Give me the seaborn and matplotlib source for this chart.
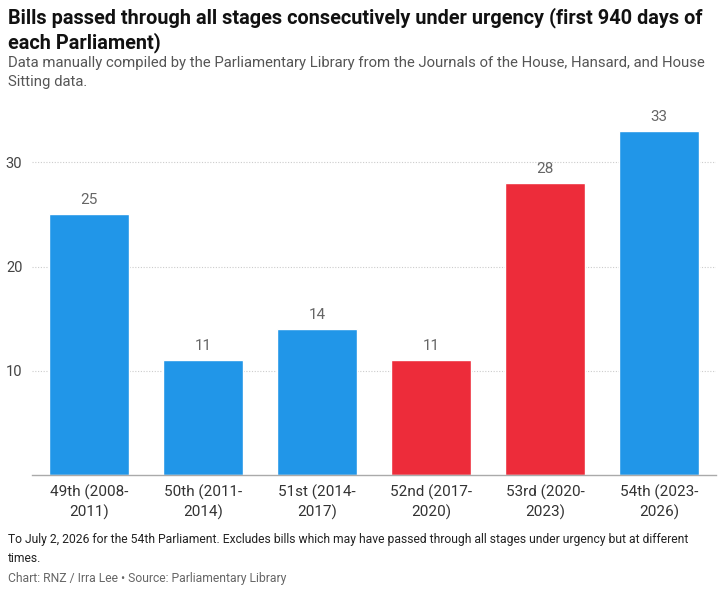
import numpy as np
import pandas as pd
import matplotlib
matplotlib.use('Agg')
import matplotlib.pyplot as plt
import seaborn as sns

parliaments = ['49th (2008-\n2011)', '50th (2011-\n2014)', '51st (2014-\n2017)',
               '52nd (2017-\n2020)', '53rd (2020-\n2023)', '54th (2023-\n2026)']
bills = [25, 11, 14, 11, 28, 33]
govt = ['National', 'National', 'National', 'Labour', 'Labour', 'National']
palette = {'National': '#2196e8', 'Labour': '#ed2c3a'}

sns.set_theme(style='white')
plt.rcParams['font.family'] = ['Roboto', 'DejaVu Sans']

df = pd.DataFrame({'parliament': parliaments, 'bills': bills, 'govt': govt})

fig = plt.figure(figsize=(7.18, 5.90), dpi=100)
ax = fig.add_axes([32 / 718, 1 - 475 / 590, 684 / 718, 370 / 590])

sns.barplot(data=df, x='parliament', y='bills', hue='govt', palette=palette,
            dodge=False, width=0.7, legend=False, ax=ax, saturation=1)

for i, v in enumerate(bills):
    ax.text(i, v + 0.7, str(v), ha='center', va='bottom', fontsize=11, color='#666666')

ax.set_ylim(0, 35.5)
ax.set_xlim(-0.5, 5.5)
ax.set_yticks([10, 20, 30])
ax.yaxis.grid(True, linestyle=(0, (1, 1.5)), color='#cccccc', linewidth=0.8)
ax.set_axisbelow(True)
ax.set_xlabel('')
ax.set_ylabel('')
for s in ['top', 'right', 'left']:
    ax.spines[s].set_visible(False)
ax.spines['bottom'].set_color('#aaaaaa')
ax.spines['bottom'].set_linewidth(1)
ax.tick_params(axis='y', length=0, labelsize=10.5, labelcolor='#444444', pad=7)
ax.tick_params(axis='x', length=0, labelsize=11, labelcolor='#333333', pad=7)
for lab in ax.get_xticklabels():
    lab.set_linespacing(1.35)

fig.text(8 / 718, 1 - 7 / 590,
         'Bills passed through all stages consecutively under urgency (first 940 days of\neach Parliament)',
         ha='left', va='top', fontsize=14.3, fontweight='bold', color='#111111', linespacing=1.3)
fig.text(8 / 718, 1 - 56 / 590,
         'Data manually compiled by the Parliamentary Library from the Journals of the House, Hansard, and House\nSitting data.',
         ha='left', va='top', fontsize=10.7, color='#555555', linespacing=1.45)
fig.text(8 / 718, 1 - 533 / 590,
         'To July 2, 2026 for the 54th Parliament. Excludes bills which may have passed through all stages under urgency but at different\ntimes.',
         ha='left', va='top', fontsize=8.75, color='#222222', linespacing=1.6)
fig.text(8 / 718, 1 - 572 / 590,
         'Chart: RNZ / Irra Lee \u2022 Source: Parliamentary Library',
         ha='left', va='top', fontsize=8.75, color='#666666')

fig.savefig('out.png', dpi=100)
